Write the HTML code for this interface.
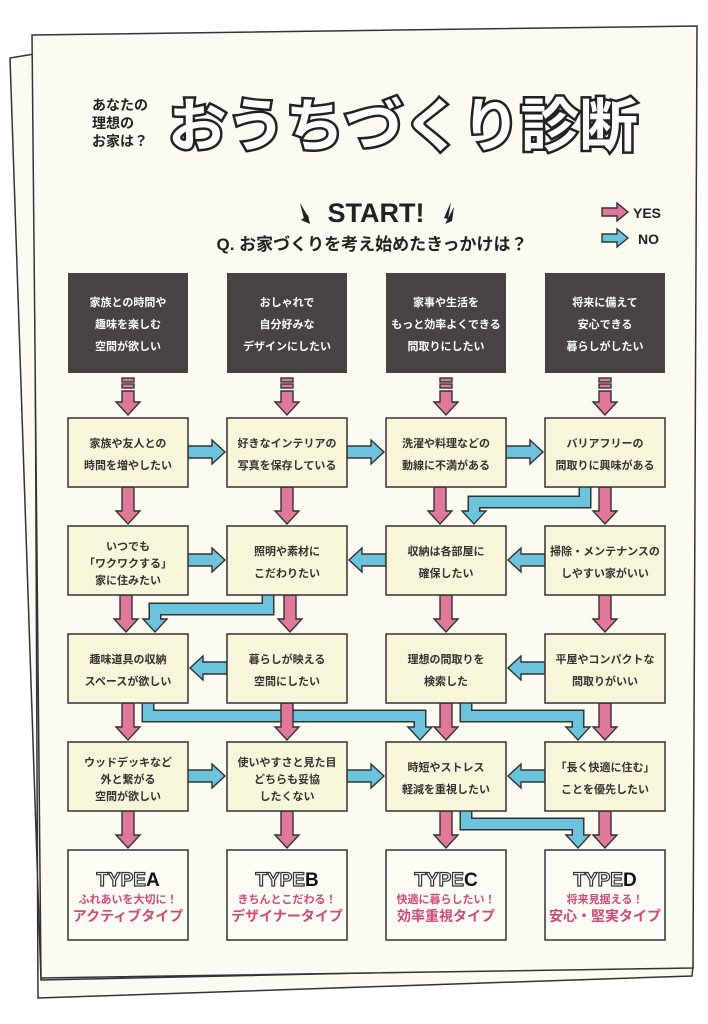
<!DOCTYPE html>
<html><head><meta charset="utf-8"><style>
html,body{margin:0;padding:0;background:#fff;}
svg{display:block;font-family:"Liberation Sans","Noto Sans CJK JP",sans-serif;}
.bt{font-size:11px;font-weight:bold;fill:#333;text-anchor:middle;}
.dt{font-size:11px;font-weight:bold;fill:#fff;text-anchor:middle;}
.pk{fill:#e0789a;stroke:#333;stroke-width:1.4;}
.bl{fill:#6cc4dc;stroke:#333;stroke-width:1.4;}
.box{fill:#f8f6da;stroke:#333;stroke-width:1.5;}
.dk{fill:#474342;}
.tb{fill:#fdfcf4;stroke:#333;stroke-width:1.5;}
</style></head><body>
<svg width="708" height="1024" viewBox="0 0 708 1024">
<polygon points="10,58 34,54 38,998 692,976 693,966 41,980" fill="#fcfbf2" stroke="#333" stroke-width="1.5"/>
<polygon points="32,35 697,26 693,968 41,978" fill="#fcfbf2" stroke="#333" stroke-width="1.5"/>

<text x="92" y="110" font-size="14" font-weight="bold" fill="#222">あなたの</text>
<text x="92" y="128" font-size="14" font-weight="bold" fill="#222">理想の</text>
<text x="92" y="146" font-size="14" font-weight="bold" fill="#222">お家は？</text>
<text x="168" y="146" font-size="58" font-weight="bold" fill="#fff" stroke="#222" stroke-width="5" paint-order="stroke fill" textLength="470" lengthAdjust="spacingAndGlyphs">おうちづくり診断</text>

<polygon points="300,203 309,218 304,219" fill="#222"/>
<polygon points="301,220 310,224 308,215" fill="#222"/>
<text x="376" y="222" font-size="27" font-weight="bold" fill="#222" text-anchor="middle">START!</text>
<polygon points="451,202 444,218 448,219" fill="#222"/>
<polygon points="454,207 445,224 452,221" fill="#222"/>
<text x="372" y="250" font-size="17" font-weight="bold" fill="#222" text-anchor="middle">Q. お家づくりを考え始めたきっかけは？</text>
<polygon class="pk" points="602,208 617,208 617,203 628,212 617,221 617,216 602,216"/>
<text x="633" y="218" font-size="14" font-weight="bold" fill="#222">YES</text>
<polygon class="bl" points="602,234 617,234 617,229 628,238 617,247 617,242 602,242"/>
<text x="638" y="244" font-size="14" font-weight="bold" fill="#222">NO</text>

<rect class="dk" x="68" y="273" width="120" height="100"/>
<rect class="dk" x="227" y="273" width="120" height="100"/>
<rect class="dk" x="386" y="273" width="120" height="100"/>
<rect class="dk" x="545" y="273" width="120" height="100"/>
<text class="dt" x="128" y="306">家族との時間や</text><text class="dt" x="128" y="328">趣味を楽しむ</text><text class="dt" x="128" y="350">空間が欲しい</text>
<text class="dt" x="287" y="306">おしゃれで</text><text class="dt" x="287" y="328">自分好みな</text><text class="dt" x="287" y="350">デザインにしたい</text>
<text class="dt" x="446" y="306">家事や生活を</text><text class="dt" x="446" y="328">もっと効率よくできる</text><text class="dt" x="446" y="350">間取りにしたい</text>
<text class="dt" x="605" y="306">将来に備えて</text><text class="dt" x="605" y="328">安心できる</text><text class="dt" x="605" y="350">暮らしがしたい</text>

<!-- L connectors (under pink) -->
<g fill="none" stroke-linejoin="miter">
<path d="M585 487 V502 H474 V512" stroke="#333" stroke-width="13"/>
<path d="M268 595 V609 H155 V620" stroke="#333" stroke-width="13"/>
<path d="M148 703 V716 H420 V728" stroke="#333" stroke-width="13"/>
<path d="M466 703 V716 H578 V728" stroke="#333" stroke-width="13"/>
<path d="M466 811 V824 H578 V836" stroke="#333" stroke-width="13"/>
</g>
<g class="bl">
<polygon points="462,511 474,524 486,511"/>
<polygon points="143,619 155,632 167,619"/>
<polygon points="408,727 420,740 432,727"/>
<polygon points="566,727 578,740 590,727"/>
<polygon points="566,835 578,848 590,835"/>
</g>
<g fill="none" stroke="#6cc4dc" stroke-width="10">
<path d="M585 486 V502 H474 V513"/>
<path d="M268 594 V609 H155 V621"/>
<path d="M148 702 V716 H420 V729"/>
<path d="M466 702 V716 H578 V729"/>
<path d="M466 810 V824 H578 V837"/>
</g>

<g class="pk">
<rect x="122" y="378" width="12" height="4"/><rect x="122" y="384" width="12" height="4"/>
<rect x="281" y="378" width="12" height="4"/><rect x="281" y="384" width="12" height="4"/>
<rect x="440" y="378" width="12" height="4"/><rect x="440" y="384" width="12" height="4"/>
<rect x="599" y="378" width="12" height="4"/><rect x="599" y="384" width="12" height="4"/>
<polygon points="122,391 122,402 116,402 128,415 140,402 134,402 134,391"/>
<polygon points="281,391 281,402 275,402 287,415 299,402 293,402 293,391"/>
<polygon points="440,391 440,402 434,402 446,415 458,402 452,402 452,391"/>
<polygon points="599,391 599,402 593,402 605,415 617,402 611,402 611,391"/>
<polygon points="122,487 122,511 116,511 128,524 140,511 134,511 134,487"/>
<polygon points="281,487 281,511 275,511 287,524 299,511 293,511 293,487"/>
<polygon points="434,487 434,511 428,511 440,524 452,511 446,511 446,487"/>
<polygon points="599,487 599,511 593,511 605,524 617,511 611,511 611,487"/>
<polygon points="120,595 120,619 114,619 126,632 138,619 132,619 132,595"/>
<polygon points="284,595 284,619 278,619 290,632 302,619 296,619 296,595"/>
<polygon points="440,595 440,619 434,619 446,632 458,619 452,619 452,595"/>
<polygon points="599,595 599,619 593,619 605,632 617,619 611,619 611,595"/>
<polygon points="122,703 122,727 116,727 128,740 140,727 134,727 134,703"/>
<polygon points="281,703 281,727 275,727 287,740 299,727 293,727 293,703"/>
<polygon points="440,703 440,727 434,727 446,740 458,727 452,727 452,703"/>
<polygon points="599,703 599,727 593,727 605,740 617,727 611,727 611,703"/>
<polygon points="122,811 122,835 116,835 128,848 140,835 134,835 134,811"/>
<polygon points="281,811 281,835 275,835 287,848 299,835 293,835 293,811"/>
<polygon points="440,811 440,835 434,835 446,848 458,835 452,835 452,811"/>
<polygon points="599,811 599,835 593,835 605,848 617,835 611,835 611,811"/>
</g>

<g class="bl">
<polygon points="188,446 212,446 212,440 225,452 212,464 212,458 188,458"/>
<polygon points="347,446 371,446 371,440 384,452 371,464 371,458 347,458"/>
<polygon points="506,446 530,446 530,440 543,452 530,464 530,458 506,458"/>
<polygon points="188,554 212,554 212,548 225,560 212,572 212,566 188,566"/>
<polygon points="386,554 362,554 362,548 349,560 362,572 362,566 386,566"/>
<polygon points="545,554 521,554 521,548 508,560 521,572 521,566 545,566"/>
<polygon points="227,662 203,662 203,656 190,668 203,680 203,674 227,674"/>
<polygon points="545,662 521,662 521,656 508,668 521,680 521,674 545,674"/>
<polygon points="188,770 212,770 212,764 225,776 212,788 212,782 188,782"/>
<polygon points="347,770 371,770 371,764 384,776 371,788 371,782 347,782"/>
<polygon points="545,770 521,770 521,764 508,776 521,788 521,782 545,782"/>
</g>

<g>
<rect class="box" x="68" y="418" width="120" height="69"/><rect class="box" x="227" y="418" width="120" height="69"/>
<rect class="box" x="386" y="418" width="120" height="69"/><rect class="box" x="545" y="418" width="120" height="69"/>
<rect class="box" x="68" y="526" width="120" height="69"/><rect class="box" x="227" y="526" width="120" height="69"/>
<rect class="box" x="386" y="526" width="120" height="69"/><rect class="box" x="545" y="526" width="120" height="69"/>
<rect class="box" x="68" y="634" width="120" height="69"/><rect class="box" x="227" y="634" width="120" height="69"/>
<rect class="box" x="386" y="634" width="120" height="69"/><rect class="box" x="545" y="634" width="120" height="69"/>
<rect class="box" x="68" y="742" width="120" height="69"/><rect class="box" x="227" y="742" width="120" height="69"/>
<rect class="box" x="386" y="742" width="120" height="69"/><rect class="box" x="545" y="742" width="120" height="69"/>
</g>
<text class="bt" x="128" y="447">家族や友人との</text><text class="bt" x="128" y="469">時間を増やしたい</text>
<text class="bt" x="287" y="447">好きなインテリアの</text><text class="bt" x="287" y="469">写真を保存している</text>
<text class="bt" x="446" y="447">洗濯や料理などの</text><text class="bt" x="446" y="469">動線に不満がある</text>
<text class="bt" x="605" y="447">バリアフリーの</text><text class="bt" x="605" y="469">間取りに興味がある</text>

<text class="bt" x="128" y="550">いつでも</text><text class="bt" x="128" y="567">「ワクワクする」</text><text class="bt" x="128" y="584">家に住みたい</text>
<text class="bt" x="287" y="555">照明や素材に</text><text class="bt" x="287" y="577">こだわりたい</text>
<text class="bt" x="446" y="555">収納は各部屋に</text><text class="bt" x="446" y="577">確保したい</text>
<text class="bt" x="605" y="555">掃除・メンテナンスの</text><text class="bt" x="605" y="577">しやすい家がいい</text>

<text class="bt" x="128" y="663">趣味道具の収納</text><text class="bt" x="128" y="685">スペースが欲しい</text>
<text class="bt" x="287" y="663">暮らしが映える</text><text class="bt" x="287" y="685">空間にしたい</text>
<text class="bt" x="446" y="663">理想の間取りを</text><text class="bt" x="446" y="685">検索した</text>
<text class="bt" x="605" y="663">平屋やコンパクトな</text><text class="bt" x="605" y="685">間取りがいい</text>

<text class="bt" x="128" y="766">ウッドデッキなど</text><text class="bt" x="128" y="783">外と繋がる</text><text class="bt" x="128" y="800">空間が欲しい</text>
<text class="bt" x="287" y="766">使いやすさと見た目</text><text class="bt" x="287" y="783">どちらも妥協</text><text class="bt" x="287" y="800">したくない</text>
<text class="bt" x="446" y="771">時短やストレス</text><text class="bt" x="446" y="793">軽減を重視したい</text>
<text class="bt" x="605" y="771">「長く快適に住む」</text><text class="bt" x="605" y="793">ことを優先したい</text>

<rect class="tb" x="68" y="850" width="120" height="90"/><rect class="tb" x="227" y="850" width="120" height="90"/>
<rect class="tb" x="386" y="850" width="120" height="90"/><rect class="tb" x="545" y="850" width="120" height="90"/>
<g font-size="19" font-weight="bold" text-anchor="middle">
<text x="128" y="886"><tspan fill="#fff" stroke="#333" stroke-width="1.2">TYPE</tspan><tspan fill="#111">A</tspan></text>
<text x="287" y="886"><tspan fill="#fff" stroke="#333" stroke-width="1.2">TYPE</tspan><tspan fill="#111">B</tspan></text>
<text x="446" y="886"><tspan fill="#fff" stroke="#333" stroke-width="1.2">TYPE</tspan><tspan fill="#111">C</tspan></text>
<text x="605" y="886"><tspan fill="#fff" stroke="#333" stroke-width="1.2">TYPE</tspan><tspan fill="#111">D</tspan></text>
</g>
<g fill="#cf4a7a" font-weight="bold" text-anchor="middle">
<text x="128" y="903" font-size="11">ふれあいを大切に！</text><text x="128" y="921" font-size="14">アクティブタイプ</text>
<text x="287" y="903" font-size="11">きちんとこだわる！</text><text x="287" y="921" font-size="14">デザイナータイプ</text>
<text x="446" y="903" font-size="11">快適に暮らしたい！</text><text x="446" y="921" font-size="14">効率重視タイプ</text>
<text x="605" y="903" font-size="11">将来見据える！</text><text x="605" y="921" font-size="14">安心・堅実タイプ</text>
</g>
</svg>
</body></html>
